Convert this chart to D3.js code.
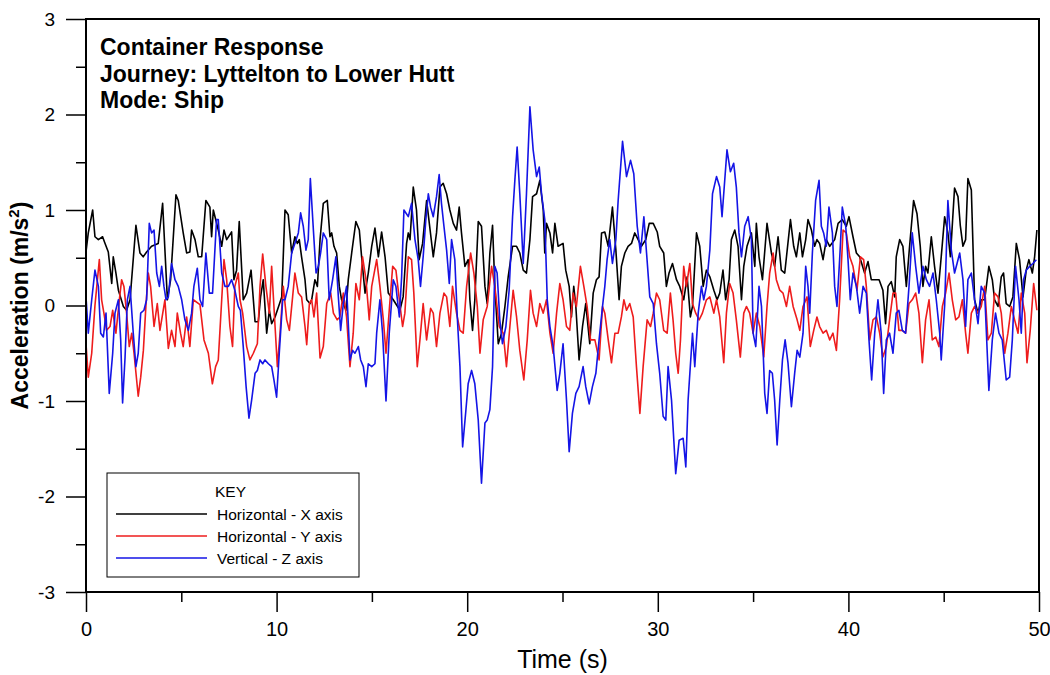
<!DOCTYPE html>
<html>
<head>
<meta charset="utf-8">
<script src="https://cdn.jsdelivr.net/npm/d3@7"></script>
<style>
  html, body { margin: 0; padding: 0; background: #fff; }
  svg { display: block; font-family: "Liberation Sans", Arial, sans-serif; }
</style>
</head>
<body>
<svg id="chart" width="1050" height="675"></svg>
<script>
// ---------- DATA ----------
const titleLines = ["Container Response", "Journey: Lyttelton to Lower Hutt", "Mode: Ship"];
const seriesNames = ["Horizontal - X axis", "Horizontal - Y axis", "Vertical - Z axis"];
const seriesColors = ["#000000", "#ee1c1c", "#1414e6"];
const xTickValues = [0, 10, 20, 30, 40, 50];
const xMinorTicks = [5, 15, 25, 35, 45];
const yTickValues = [-3, -2, -1, 0, 1, 2, 3];
const yMinorTicks = [-2.5, -1.5, -0.5, 0.5, 1.5, 2.5];

// Horizontal - X axis (black)
const xTime = [0,0.12,0.35,0.47,0.65,0.87,1.0,1.17,1.35,1.43,1.57,1.7,1.96,2.13,2.31,2.62,2.83,3.0,3.18,3.44,3.79,4.02,4.27,4.44,4.72,4.84,5.1,5.28,5.45,5.54,5.72,5.89,6.07,6.29,6.5,6.59,6.68,6.94,7.12,7.24,7.38,7.64,7.76,7.9,8.04,8.25,8.43,8.66,8.87,9.04,9.16,9.3,9.48,9.62,9.74,9.92,10.27,10.44,10.61,10.79,10.96,11.09,11.19,11.31,11.49,11.58,11.75,11.84,12.01,12.14,12.28,12.45,12.66,12.8,12.89,13.01,13.15,13.29,13.41,13.64,13.76,13.94,14.16,14.34,14.46,14.64,14.81,14.99,15.16,15.34,15.51,15.69,15.86,16.12,16.47,16.64,16.82,16.91,17.0,17.17,17.34,17.48,17.66,17.87,18.22,18.39,18.57,18.74,18.92,19.09,19.27,19.44,19.58,19.7,19.88,20.05,20.14,20.28,20.4,20.58,20.75,20.93,21.05,21.19,21.33,21.45,21.63,21.8,21.98,22.15,22.38,22.59,22.76,22.94,23.11,23.29,23.43,23.64,23.81,23.99,24.07,24.16,24.34,24.48,24.6,24.77,25.03,25.17,25.35,25.47,25.59,25.7,25.87,26.05,26.22,26.43,26.61,26.78,26.92,27.05,27.22,27.4,27.62,27.8,27.97,28.09,28.27,28.44,28.62,28.79,28.97,29.14,29.37,29.55,29.76,29.97,30.1,30.31,30.45,30.59,30.77,30.98,31.15,31.36,31.54,31.71,31.82,32.03,32.2,32.38,32.55,32.73,32.94,33.11,33.25,33.42,33.56,33.74,33.86,34.04,34.21,34.39,34.51,34.68,34.91,35.09,35.17,35.31,35.49,35.73,35.96,36.13,36.31,36.48,36.66,36.96,37.13,37.27,37.45,37.59,37.76,37.88,38.06,38.23,38.35,38.49,38.67,38.84,39.02,39.28,39.46,39.68,39.89,40.03,40.24,40.42,40.59,40.85,41.03,41.2,41.38,41.61,41.81,41.95,42.08,42.25,42.43,42.51,42.69,42.86,43.04,43.21,43.42,43.6,43.77,43.91,44.05,44.17,44.35,44.52,44.7,44.87,45.05,45.22,45.35,45.57,45.75,45.87,46.01,46.15,46.27,46.45,46.62,46.8,46.97,47.15,47.37,47.55,47.67,47.85,48.02,48.14,48.28,48.46,48.63,48.81,48.98,49.16,49.33,49.47,49.65,49.77,49.89];
const xAccel = [0.56,0.76,1.0,0.72,0.69,0.72,0.65,0.56,0.23,0.51,0.34,0.16,-0.01,-0.05,0.06,0.84,0.55,0.51,0.56,0.62,0.65,1.07,0.06,0.27,1.16,1.1,0.76,0.55,0.56,0.79,0.69,0.51,0.51,1.1,1.03,0.72,1.0,0.79,0.62,0.79,0.69,0.77,0.27,0.37,0.88,0.06,0.13,0.37,-0.17,-0.17,0.09,0.27,-0.29,-0.05,-0.19,-0.12,0.09,1.0,0.95,0.55,0.72,0.65,0.69,0.51,0.27,0.06,0.02,0.06,0.27,0.2,0.69,1.07,1.1,0.72,0.76,0.62,0.55,0.2,0.06,-0.05,0.27,0.55,0.88,0.79,0.51,0.13,0.34,0.62,0.81,0.51,0.77,0.51,0.13,0.06,-0.05,0.09,0.65,0.76,0.69,1.24,1.0,0.48,0.65,1.1,0.51,0.76,1.24,1.28,1.17,1.0,0.86,0.79,1.03,0.76,0.41,0.48,0.06,-0.26,0.06,0.88,0.83,0.2,0.02,0.55,0.84,0.2,-0.4,-0.29,-0.01,0.3,0.62,0.62,0.55,0.37,0.34,0.69,1.14,1.17,1.31,1.0,0.55,0.86,0.76,0.55,0.86,0.62,0.65,0.37,0.2,-0.12,0.2,-0.01,-0.57,-0.22,0.02,-0.4,0.13,0.27,0.3,0.76,0.77,0.62,1.03,0.58,0.06,0.41,0.55,0.62,0.65,0.76,0.69,0.62,0.69,0.86,0.86,0.77,0.62,0.55,0.2,0.34,0.44,0.27,0.2,0.06,0.3,-0.12,-0.01,0.76,0.62,0.2,0.37,0.3,0.16,0.06,0.13,0.37,0.06,0.27,0.69,0.79,0.62,0.06,0.41,0.62,0.76,0.41,0.86,0.51,0.27,0.86,0.55,0.41,0.72,0.37,0.34,0.9,0.62,0.51,0.76,0.51,0.69,0.9,0.79,0.62,0.69,0.65,0.48,0.69,0.62,0.69,0.86,0.9,0.83,0.93,0.72,0.55,0.51,0.34,0.46,0.27,0.27,0.27,0.16,-0.19,0.2,0.25,0.09,0.51,0.69,0.62,0.2,0.62,1.1,0.96,0.62,0.2,0.41,0.34,0.72,0.41,0.13,0.51,0.93,0.76,0.51,1.23,1.14,0.84,0.62,0.69,1.33,1.21,0.06,-0.08,0.06,0.06,0.41,0.27,0.06,-0.01,0.3,0.34,0.02,-0.01,0.09,0.65,0.48,0.09,0.37,0.48,0.34,0.51,0.79];

// Horizontal - Y axis (red)
const yTime = [0,0.12,0.3,0.47,0.7,0.82,0.94,1.08,1.26,1.4,1.57,1.75,1.87,1.99,2.13,2.27,2.4,2.52,2.74,2.87,3.01,3.15,3.27,3.39,3.57,3.74,3.88,4.14,4.32,4.49,4.67,4.79,4.96,5.1,5.28,5.45,5.63,5.98,6.19,6.42,6.63,6.8,6.94,7.12,7.24,7.38,7.55,7.69,7.81,7.99,8.08,8.22,8.43,8.6,8.78,8.99,9.13,9.27,9.44,9.62,9.74,9.92,10.04,10.18,10.35,10.53,10.67,10.84,10.96,11.14,11.31,11.49,11.58,11.72,11.84,11.96,12.1,12.28,12.45,12.63,12.84,12.98,13.18,13.32,13.5,13.67,13.85,14.02,14.16,14.34,14.51,14.69,14.86,14.99,15.25,15.42,15.6,15.74,15.91,16.09,16.26,16.44,16.61,16.73,16.91,17.08,17.2,17.38,17.52,17.69,17.87,18.08,18.22,18.39,18.57,18.78,18.92,19.09,19.23,19.44,19.62,19.79,19.97,20.18,20.35,20.53,20.67,20.84,21.05,21.28,21.45,21.68,21.89,22.06,22.24,22.41,22.59,22.76,22.97,23.15,23.32,23.46,23.64,23.81,23.99,24.16,24.34,24.51,24.69,24.86,25.03,25.21,25.38,25.56,25.73,25.94,26.12,26.29,26.47,26.7,26.92,27.1,27.22,27.4,27.57,27.75,27.92,28.09,28.22,28.36,28.53,28.71,28.88,29.06,29.23,29.44,29.62,29.76,29.93,30.1,30.31,30.49,30.66,30.8,30.94,31.07,31.19,31.36,31.5,31.68,31.82,31.99,32.17,32.34,32.55,32.73,32.94,33.08,33.25,33.46,33.6,33.77,33.95,34.12,34.33,34.51,34.65,34.82,35.0,35.17,35.35,35.56,35.73,35.87,36.05,36.22,36.4,36.57,36.75,36.92,37.1,37.31,37.45,37.62,37.83,38.0,38.18,38.35,38.49,38.67,38.84,39.02,39.19,39.37,39.54,39.72,39.89,40.07,40.24,40.45,40.63,40.8,40.94,41.12,41.29,41.47,41.64,41.81,41.99,42.16,42.34,42.48,42.65,42.83,43.0,43.18,43.35,43.53,43.7,43.88,44.05,44.23,44.4,44.58,44.75,44.93,45.1,45.28,45.45,45.63,45.8,45.98,46.15,46.27,46.45,46.62,46.8,46.97,47.15,47.32,47.5,47.67,47.85,48.02,48.2,48.37,48.55,48.72,48.9,49.07,49.25,49.37,49.54,49.72,49.89];
const yAccel = [-0.4,-0.75,-0.5,0.0,0.48,0.06,-0.08,-0.26,-0.22,-0.05,-0.29,0.06,0.27,0.2,-0.08,-0.43,-0.29,-0.5,-0.95,-0.75,-0.47,0.02,0.34,0.2,-0.22,0.02,-0.26,0.06,-0.45,-0.26,-0.43,-0.08,-0.29,-0.43,-0.12,-0.43,0.06,0.01,-0.36,-0.5,-0.82,-0.64,-0.57,0.06,0.48,0.27,-0.22,-0.43,0.2,0.34,0.06,-0.08,-0.43,-0.57,-0.5,-0.4,0.2,0.54,0.2,-0.08,0.41,-0.22,-0.64,-0.29,0.2,-0.15,-0.26,0.09,0.34,0.13,0.09,-0.22,-0.41,0.02,0.06,-0.12,0.13,-0.55,-0.43,0.02,0.13,-0.08,-0.15,-0.12,0.13,-0.12,-0.64,-0.29,0.23,0.06,0.51,0.27,-0.15,0.2,0.48,0.2,-0.15,-0.5,-0.05,0.41,0.37,0.06,-0.22,-0.08,0.51,0.48,0.13,-0.64,-0.36,0.02,-0.36,-0.03,-0.08,-0.43,-0.08,0.13,0.09,-0.22,0.2,-0.08,-0.26,-0.29,0.2,0.55,0.34,-0.01,-0.5,-0.15,-0.01,0.41,0.2,-0.22,-0.29,-0.64,-0.22,0.16,-0.12,-0.47,-0.78,-0.36,0.16,-0.08,-0.22,0.02,-0.08,0.06,-0.29,-0.5,-0.08,0.23,0.06,-0.22,-0.26,0.13,-0.01,0.41,0.2,-0.01,-0.36,-0.36,-0.57,-0.01,-0.08,-0.36,-0.6,-0.29,-0.29,-0.12,0.06,-0.05,0.02,-0.12,-0.64,-1.13,-0.64,-0.15,-0.22,-0.08,0.13,0.06,-0.26,-0.29,0.13,-0.15,-0.5,-0.71,-0.36,0.41,0.2,0.44,0.02,-0.08,-0.15,-0.08,0.06,0.09,-0.08,0.06,-0.12,-0.6,-0.08,0.23,0.13,-0.15,-0.54,-0.08,-0.01,-0.08,-0.29,-0.08,-0.22,-0.54,-0.01,0.34,0.55,0.27,0.16,0.13,-0.01,0.2,-0.01,-0.15,-0.26,-0.01,0.09,-0.43,-0.26,-0.12,-0.22,-0.29,-0.26,-0.36,-0.29,-0.47,0.06,0.79,0.76,0.51,0.41,0.16,0.51,0.48,0.2,-0.36,-0.15,-0.12,-0.29,-0.54,-0.43,-0.15,0.13,0.13,-0.26,-0.26,-0.29,0.02,0.06,0.13,-0.08,-0.6,-0.15,0.06,-0.36,-0.33,-0.43,-0.01,0.13,0.34,0.06,-0.15,-0.12,0.06,-0.29,-0.5,-0.08,-0.01,-0.08,-0.01,0.2,-0.36,-0.29,0.13,0.09,-0.08,-0.5,-0.29,-0.01,-0.15,-0.29,0.13,-0.08,-0.6,-0.26,0.23,-0.05];

// Vertical - Z axis (blue)
const zTime = [0,0.12,0.3,0.47,0.65,0.77,0.91,1.05,1.22,1.4,1.52,1.7,1.82,1.92,2.05,2.17,2.31,2.48,2.62,2.74,2.87,3.04,3.18,3.32,3.44,3.57,3.71,3.85,3.97,4.09,4.2,4.32,4.49,4.67,4.84,5.02,5.19,5.37,5.54,5.66,5.84,5.98,6.12,6.29,6.47,6.64,6.85,6.94,7.12,7.29,7.47,7.64,7.81,7.99,8.1,8.25,8.4,8.55,8.69,8.87,8.99,9.13,9.27,9.39,9.57,9.74,9.86,10.0,10.14,10.32,10.44,10.61,10.79,10.96,11.14,11.26,11.4,11.54,11.66,11.77,11.93,12.07,12.19,12.31,12.45,12.63,12.76,12.94,13.11,13.25,13.36,13.5,13.67,13.85,13.99,14.11,14.29,14.41,14.55,14.69,14.81,14.99,15.16,15.25,15.42,15.56,15.74,15.91,16.12,16.26,16.44,16.56,16.68,16.91,17.08,17.26,17.43,17.55,17.69,17.83,17.96,18.08,18.22,18.39,18.53,18.65,18.78,18.92,19.06,19.18,19.35,19.48,19.62,19.76,19.93,20.05,20.23,20.4,20.58,20.75,20.93,21.05,21.19,21.33,21.45,21.57,21.71,21.85,22.03,22.2,22.38,22.5,22.62,22.76,22.94,23.11,23.29,23.46,23.64,23.78,23.9,24.07,24.2,24.34,24.51,24.72,24.86,25.03,25.21,25.35,25.52,25.7,25.87,26.08,26.22,26.4,26.57,26.75,26.92,27.1,27.22,27.34,27.48,27.62,27.8,27.92,28.15,28.36,28.57,28.74,28.92,29.09,29.27,29.41,29.58,29.76,29.93,30.1,30.28,30.42,30.54,30.72,30.94,31.12,31.33,31.47,31.59,31.82,31.94,32.12,32.29,32.41,32.55,32.73,32.87,33.08,33.25,33.37,33.63,33.81,33.98,34.12,34.26,34.39,34.56,34.74,34.91,35.0,35.14,35.31,35.44,35.61,35.73,35.87,36.01,36.13,36.26,36.4,36.54,36.68,36.83,37.01,37.18,37.31,37.45,37.62,37.76,37.88,37.97,38.11,38.28,38.46,38.58,38.7,38.84,38.98,39.16,39.28,39.4,39.54,39.68,39.86,39.98,40.1,40.24,40.42,40.59,40.77,40.94,41.08,41.22,41.38,41.55,41.72,41.85,41.99,42.16,42.34,42.51,42.65,42.83,43.0,43.18,43.35,43.53,43.7,43.91,44.09,44.26,44.44,44.61,44.79,44.87,45.05,45.22,45.4,45.57,45.7,45.84,46.01,46.15,46.27,46.45,46.62,46.8,46.97,47.15,47.37,47.55,47.72,47.9,48.07,48.28,48.46,48.6,48.77,48.95,49.07,49.19,49.33,49.51,49.68,49.86];
const zAccel = [0.09,-0.29,0.06,0.37,0.2,-0.29,-0.33,-0.08,-0.92,-0.5,-0.08,0.06,-0.36,-1.02,-0.54,0.06,0.2,-0.29,-0.64,-0.5,-0.08,-0.05,0.06,0.86,0.76,0.79,0.34,0.2,0.41,0.2,0.06,0.09,0.44,0.27,0.2,0.06,-0.15,-0.26,-0.08,0.2,0.39,0.06,-0.01,0.55,0.13,0.13,0.9,0.9,0.34,0.2,0.2,0.27,0.16,-0.01,-0.05,-0.43,-0.85,-1.18,-0.99,-0.71,-0.68,-0.57,-0.61,-0.57,-0.61,-0.64,-0.78,-0.96,-0.5,0.06,0.06,0.2,0.55,0.65,0.76,0.97,0.83,0.58,0.69,1.33,0.79,0.34,0.41,0.55,0.76,0.69,0.06,0.27,0.51,0.06,-0.26,0.02,0.2,-0.57,-0.47,-0.5,-0.43,-0.57,-0.64,-0.85,-0.61,-0.64,-0.61,-0.29,0.06,-0.29,-1.0,-0.29,0.27,0.2,-0.12,0.3,1.0,0.93,1.07,0.69,0.48,0.2,0.51,0.9,1.17,1.03,0.93,1.14,1.37,1.07,0.83,0.58,0.23,0.69,0.48,-0.12,-0.64,-1.48,-1.1,-0.82,-0.68,-0.82,-1.2,-1.86,-1.23,-1.2,-1.09,-0.64,0.41,0.34,-0.15,-0.4,-0.22,0.16,0.93,1.31,1.66,1.17,0.44,1.17,2.08,1.63,1.35,1.45,1.17,0.9,0.06,-0.22,-0.43,-0.89,-0.71,-0.4,-0.99,-1.53,-1.13,-0.92,-0.85,-0.64,-0.85,-1.03,-0.85,-0.71,-0.36,-0.01,0.2,0.48,0.69,0.44,0.69,1.1,1.72,1.35,1.52,1.38,0.83,0.55,0.93,0.55,0.09,0.02,-0.4,-0.71,-1.16,-1.2,-0.64,-0.99,-1.76,-1.41,-1.39,-1.69,-0.99,-0.29,-0.64,-0.08,0.2,0.06,0.2,0.58,1.17,1.35,1.24,0.93,1.63,1.4,1.49,1.24,0.76,0.51,0.83,0.93,0.69,-0.29,-0.43,0.2,-0.01,-0.92,-1.13,-0.68,-0.71,-0.99,-1.46,-0.99,-0.57,-0.36,-0.6,-1.06,-0.71,-0.47,-0.54,-0.29,0.41,0.2,-0.08,0.55,1.1,1.31,0.83,0.76,0.62,1.03,0.76,0.2,-0.01,0.48,1.03,0.83,0.48,0.06,0.34,0.2,-0.08,0.2,0.13,-0.36,-0.78,-0.29,0.06,-0.29,-0.92,-0.36,-0.29,-0.5,-0.08,-0.05,-0.26,-0.29,0.2,0.76,0.41,0.13,0.41,0.27,0.2,0.34,0.06,-0.29,-0.57,0.0,1.1,0.58,0.34,0.44,0.55,0.27,-0.22,0.27,0.34,0.06,-0.19,0.2,0.13,-0.89,-0.36,-0.08,-0.29,-0.36,-0.78,-0.75,-0.36,0.41,0.06,-0.29,0.27,0.37,0.41,0.44,0.48];

// ---------- CHART ----------
const svg = d3.select("#chart");
const mLeft = 86, mRight = 1039, mTop = 19, mBottom = 592;
const x = d3.scaleLinear().domain([0, 50]).range([mLeft, mRight]);
const y = d3.scaleLinear().domain([-3, 3]).range([mBottom, mTop]);

svg.append("defs").append("clipPath").attr("id", "plotClip")
  .append("rect").attr("x", mLeft).attr("y", mTop).attr("width", mRight - mLeft).attr("height", mBottom - mTop);

// axes
const plainFmt = d => String(d);
const xAxisMajor = d3.axisBottom(x).tickValues(xTickValues).tickSize(20).tickPadding(10).tickFormat(plainFmt);
const xAxisMinor = d3.axisBottom(x).tickValues(xMinorTicks).tickSize(10).tickFormat("");
const yAxisMajor = d3.axisLeft(y).tickValues(yTickValues).tickSize(20).tickPadding(11).tickFormat(plainFmt);
const yAxisMinor = d3.axisLeft(y).tickValues(yMinorTicks).tickSize(10).tickFormat("");

function styleAxis(g, fs) {
  g.select(".domain").remove();
  g.selectAll("line").attr("stroke", "#000").attr("stroke-width", 1.5);
  g.selectAll("text").attr("font-size", fs).attr("fill", "#000")
    .attr("font-family", "'Liberation Sans', Arial, sans-serif");
}
svg.append("g").attr("transform", `translate(0,${mBottom})`).call(xAxisMajor).call(g => styleAxis(g, 20));
svg.append("g").attr("transform", `translate(0,${mBottom})`).call(xAxisMinor).call(g => styleAxis(g, 20));
svg.append("g").attr("transform", `translate(${mLeft},0)`).call(yAxisMajor).call(g => styleAxis(g, 19));
svg.append("g").attr("transform", `translate(${mLeft},0)`).call(yAxisMinor).call(g => styleAxis(g, 19));

// series
const series = [
  { name: seriesNames[0], color: seriesColors[0], t: xTime, v: xAccel },
  { name: seriesNames[1], color: seriesColors[1], t: yTime, v: yAccel },
  { name: seriesNames[2], color: seriesColors[2], t: zTime, v: zAccel }
];
const line = d3.line().x(d => x(d[0])).y(d => y(d[1]));
const plot = svg.append("g").attr("clip-path", "url(#plotClip)");
series.forEach(s => {
  const n = Math.min(s.t.length, s.v.length);
  const pts = d3.range(n).map(i => [s.t[i], s.v[i]]);
  plot.append("path").datum(pts).attr("d", line)
    .attr("fill", "none").attr("stroke", s.color).attr("stroke-width", 1.6)
    .attr("stroke-linejoin", "round");
});

// frame
svg.append("rect").attr("x", mLeft).attr("y", mTop).attr("width", mRight - mLeft).attr("height", mBottom - mTop)
  .attr("fill", "none").attr("stroke", "#000").attr("stroke-width", 2);

// title
const title = svg.append("text").attr("font-size", 23).attr("font-weight", "bold").attr("fill", "#000");
titleLines.forEach((t, i) => {
  title.append("tspan").attr("x", 100).attr("y", 55 + i * 26.5).text(t);
});

// axis titles
svg.append("text").attr("x", (mLeft + mRight) / 2).attr("y", 668).attr("text-anchor", "middle")
  .attr("font-size", 25).attr("fill", "#000").text("Time (s)");
const yl = svg.append("text").attr("transform", `translate(28,${(mTop + mBottom) / 2}) rotate(-90)`)
  .attr("text-anchor", "middle").attr("font-size", 23).attr("font-weight", "bold").attr("fill", "#000");
yl.append("tspan").text("Acceleration (m/s");
yl.append("tspan").attr("font-size", 15).attr("dy", -9).text("2");
yl.append("tspan").attr("dy", 9).text(")");

// legend
const lg = svg.append("g");
lg.append("rect").attr("x", 107).attr("y", 473).attr("width", 252).attr("height", 104)
  .attr("fill", "#fff").attr("stroke", "#000").attr("stroke-width", 1);
lg.append("text").attr("x", 215).attr("y", 497).attr("font-size", 15.5).attr("fill", "#000").text("KEY");
series.forEach((s, i) => {
  const ly = 514 + i * 22;
  lg.append("line").attr("x1", 116).attr("x2", 207).attr("y1", ly).attr("y2", ly)
    .attr("stroke", s.color).attr("stroke-width", 1.6);
  lg.append("text").attr("x", 217).attr("y", ly + 5.5).attr("font-size", 15.5).attr("fill", "#000").text(s.name);
});
</script>
</body>
</html>
